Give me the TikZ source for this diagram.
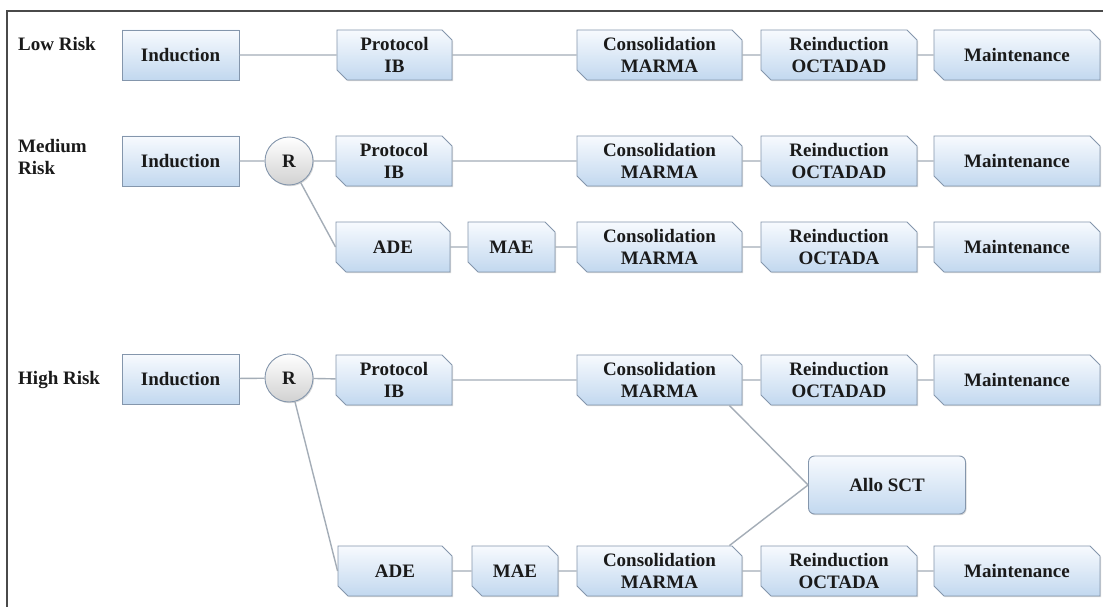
\documentclass[tikz,border=0pt]{standalone}
\usepackage{fontspec}
\setmainfont{Liberation Serif}
\usetikzlibrary{shapes.misc,shadows}
\definecolor{boxtop}{HTML}{F7FAFE}
\definecolor{boxbot}{HTML}{C2D8EF}
\definecolor{boxline}{HTML}{8496AC}
\definecolor{connc}{HTML}{A4ADB7}
\definecolor{framec}{HTML}{4A4A4A}
\definecolor{txt}{HTML}{1A1A1A}
\tikzset{
  boxbase/.style={draw=boxline, line width=0.9pt, top color=boxtop, bottom color=boxbot,
    font=\fontsize{19}{22}\selectfont\bfseries, text=txt, align=center,
    minimum height=50pt, inner sep=2pt,
    drop shadow={shadow xshift=1pt, shadow yshift=-1.2pt, opacity=0.3}},
  plainbox/.style={boxbase, rectangle},
  snipbox/.style={boxbase, chamfered rectangle,
    chamfered rectangle corners={north east, south west},
    chamfered rectangle xsep=5pt, chamfered rectangle ysep=5pt},
  allobox/.style={boxbase, rectangle, rounded corners=6pt, minimum height=58pt},
  rnode/.style={draw=boxline, line width=0.9pt, circle, top color=white, bottom color=black!18,
    minimum size=48pt, inner sep=0pt, font=\fontsize{19}{22}\selectfont\bfseries, text=txt,
    drop shadow={shadow xshift=1pt, shadow yshift=-1.2pt, opacity=0.3}},
  link/.style={draw=connc, line width=1.4pt},
  lbl/.style={font=\fontsize{19}{22}\selectfont\bfseries, text=txt, inner sep=0pt, align=left},
}
\begin{document}
\begin{tikzpicture}[x=1pt,y=-1pt]
\useasboundingbox[fill=white] (0,0) rectangle (1103,607);
\draw[framec, line width=1.3pt] (7,607) -- (7,11) -- (1103,11);

% labels
\node[lbl, anchor=west] (lowlbl) at (18,44) {Low Risk};
\node[lbl, anchor=north west] (medlbl) at (18,139) {Medium\\Risk};
\node[lbl, anchor=base west] (highlbl) at (18,384) {High Risk};

% Low risk row
\node[plainbox, minimum width=117pt] (i1) at (180.5,55) {Induction};
\node[snipbox, minimum width=115pt] (p1) at (394.5,55) {Protocol\\IB};
\node[snipbox, minimum width=165pt] (c1) at (659.5,55) {Consolidation\\MARMA};
\node[snipbox, minimum width=156pt] (r1) at (839,55) {Reinduction\\OCTADAD};
\node[snipbox, minimum width=166pt] (m1) at (1017,55) {Maintenance};

% Medium risk rows
\node[plainbox, minimum width=117pt] (i2) at (180.5,161) {Induction};
\node[rnode] (R2) at (289,161) {R};
\node[snipbox, minimum width=116pt] (p2) at (394,161) {Protocol\\IB};
\node[snipbox, minimum width=165pt] (c2) at (659.5,161) {Consolidation\\MARMA};
\node[snipbox, minimum width=156pt] (r2) at (839,161) {Reinduction\\OCTADAD};
\node[snipbox, minimum width=166pt] (m2) at (1017,161) {Maintenance};

\node[snipbox, minimum width=114pt] (a2) at (393,247) {ADE};
\node[snipbox, minimum width=87pt] (e2) at (511.5,247) {MAE};
\node[snipbox, minimum width=165pt] (c2b) at (659.5,247) {Consolidation\\MARMA};
\node[snipbox, minimum width=156pt] (r2b) at (839,247) {Reinduction\\OCTADA};
\node[snipbox, minimum width=166pt] (m2b) at (1017,247) {Maintenance};

% High risk rows
\node[plainbox, minimum width=117pt] (i3) at (180.5,379) {Induction};
\node[rnode] (R3) at (289,378) {R};
\node[snipbox, minimum width=116pt] (p3) at (394,380) {Protocol\\IB};
\node[snipbox, minimum width=165pt] (c3) at (659.5,380) {Consolidation\\MARMA};
\node[snipbox, minimum width=156pt] (r3) at (839,380) {Reinduction\\OCTADAD};
\node[snipbox, minimum width=166pt] (m3) at (1017,380) {Maintenance};

\node[allobox, minimum width=157pt] (allo) at (887,485) {Allo SCT};

\node[snipbox, minimum width=114pt] (a3) at (395,571) {ADE};
\node[snipbox, minimum width=86pt] (e3) at (515,571) {MAE};
\node[snipbox, minimum width=165pt] (c3b) at (659.5,571) {Consolidation\\MARMA};
\node[snipbox, minimum width=156pt] (r3b) at (839,571) {Reinduction\\OCTADA};
\node[snipbox, minimum width=166pt] (m3b) at (1017,571) {Maintenance};

% connectors
\path[link] (i1) -- (p1) (p1) -- (c1) (c1) -- (r1) (r1) -- (m1);
\path[link] (i2) -- (R2) (R2) -- (p2) (p2) -- (c2) (c2) -- (r2) (r2) -- (m2);
\path[link] (R2) -- (a2.west) (a2) -- (e2) (e2) -- (c2b) (c2b) -- (r2b) (r2b) -- (m2b);
\path[link] (i3) -- (R3) (R3) -- (p3) (p3) -- (c3) (c3) -- (r3) (r3) -- (m3);
\path[link] (R3) -- (a3.west) (a3) -- (e3) (e3) -- (c3b) (c3b) -- (r3b) (r3b) -- (m3b);
\path[link] (c3.-20) -- (allo.west) (c3b.20) -- (allo.west);
\end{tikzpicture}
\end{document}
